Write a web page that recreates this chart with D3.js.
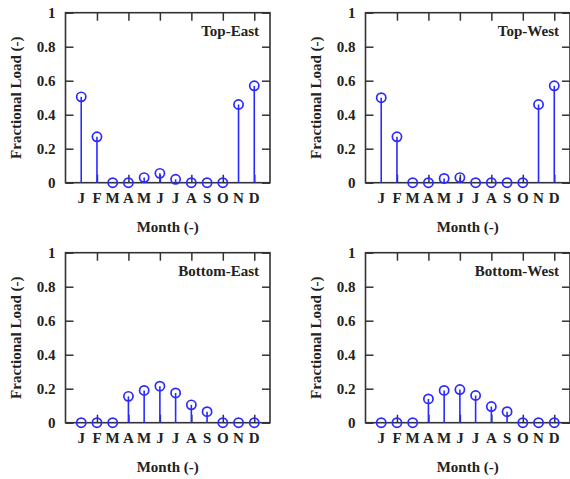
<!DOCTYPE html>
<html><head><meta charset="utf-8">
<script src="https://cdn.jsdelivr.net/npm/d3@7"></script>
<style>
html,body{margin:0;padding:0;background:#fff;}
svg text{font-family:"Liberation Serif","Times New Roman",serif;font-weight:bold;fill:#222;}
</style></head>
<body>
<svg id="chart" width="570" height="479"></svg>
<script>
const months = ["J","F","M","A","M","J","J","A","S","O","N","D"];
const yTicks = [0,0.2,0.4,0.6,0.8,1];
const yTickLabels = ["0","0.2","0.4","0.6","0.8","1"];
const xTicks = [2,4,6,8,10,12];
const titles = ["Top-East","Top-West","Bottom-East","Bottom-West"];
const topEast    = [0.505,0.27,0,0,0.03,0.055,0.02,0,0,0,0.46,0.57];
const topWest    = [0.50,0.27,0,0,0.025,0.03,0,0,0,0,0.46,0.57];
const bottomEast = [0,0,0,0.155,0.19,0.215,0.175,0.105,0.065,0,0,0];
const bottomWest = [0,0,0,0.14,0.19,0.195,0.16,0.095,0.065,0,0,0];
const seriesList = [topEast, topWest, bottomEast, bottomWest];

const svg = d3.select("#chart");
const W = 204.5, H = 170;
const origins = [[65.5,12.7],[365.5,12.7],[65.5,252.7],[365.5,252.7]];
const blue = "#2a2aff", frame = "#333";
const tickLen = 8;

seriesList.forEach((vals, i) => {
  const [ox, oy] = origins[i];
  const g = svg.append("g").attr("transform", `translate(${ox},${oy})`);
  const x = d3.scaleLinear().domain([0,13]).range([0,W]);
  const y = d3.scaleLinear().domain([0,1]).range([H,0]);

  const yl = g.append("g").call(d3.axisLeft(y).tickValues(yTicks).tickSize(-tickLen).tickPadding(10)
      .tickFormat((d,k)=>yTickLabels[k]));
  const yr = g.append("g").attr("transform",`translate(${W},0)`)
      .call(d3.axisRight(y).tickValues(yTicks).tickSize(-tickLen).tickFormat(""));
  const xt = g.append("g").call(d3.axisTop(x).tickValues(xTicks).tickSize(-tickLen).tickFormat(""));
  const xb = g.append("g").attr("transform",`translate(0,${H})`)
      .call(d3.axisBottom(x).tickValues(xTicks).tickSize(-tickLen).tickFormat(""));
  [yl,yr,xt,xb].forEach(a=>{
    a.select(".domain").remove();
    a.selectAll(".tick line").attr("stroke",frame).attr("stroke-width",1.5);
  });
  yl.selectAll(".tick text").attr("font-size",15).attr("fill","#222");

  g.append("g").selectAll("text").data(months).join("text")
    .attr("x",(d,k)=>x(k+1)).attr("y",H+20).attr("text-anchor","middle")
    .attr("font-size",15).text(d=>d);

  g.append("rect").attr("x",0).attr("y",0).attr("width",W).attr("height",H)
    .attr("fill","none").attr("stroke",frame).attr("stroke-width",1.6);

  g.append("g").selectAll("line").data(vals).join("line")
    .attr("x1",(d,k)=>x(k+1)).attr("x2",(d,k)=>x(k+1))
    .attr("y1",y(0)).attr("y2",d=>y(d))
    .attr("stroke",blue).attr("stroke-width",1.6);
  g.append("g").selectAll("circle").data(vals).join("circle")
    .attr("cx",(d,k)=>x(k+1)).attr("cy",d=>y(d)).attr("r",4.6)
    .attr("fill","none").attr("stroke",blue).attr("stroke-width",1.7);

  g.append("text").attr("x",W-11).attr("y",23.5).attr("text-anchor","end")
    .attr("font-size",15).text(titles[i]);
  g.append("text").attr("x",W/2).attr("y",H+49).attr("text-anchor","middle")
    .attr("font-size",15).text("Month (-)");
  g.append("text").attr("transform",`translate(-45,${H/2}) rotate(-90)`)
    .attr("text-anchor","middle").attr("font-size",15).text("Fractional Load (-)");
});
</script>
</body></html>
